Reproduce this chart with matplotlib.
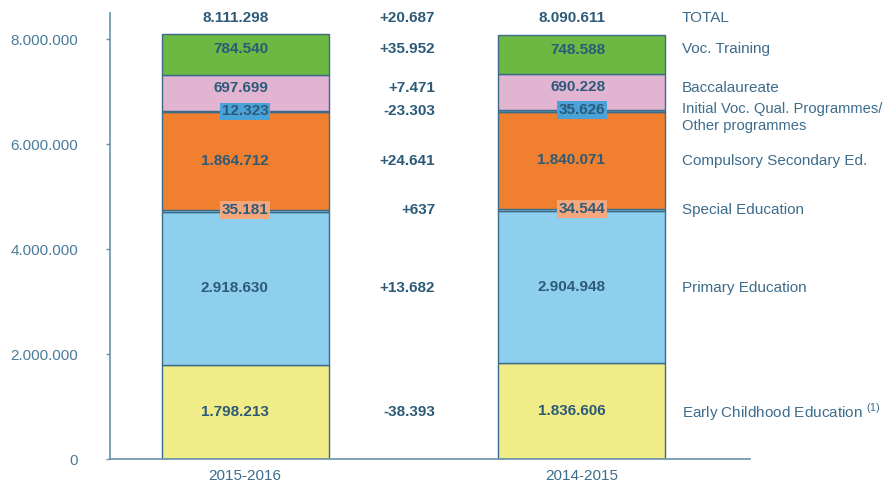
import matplotlib
matplotlib.use("Agg")
import matplotlib.pyplot as plt
import numpy as np

plt.rcParams['font.family'] = ['Liberation Sans', 'DejaVu Sans']
plt.rcParams['mathtext.fontset'] = 'custom'
plt.rcParams['mathtext.rm'] = 'Liberation Sans'

years = ["2015-2016", "2014-2015"]
categories = ["Early Childhood Education", "Primary Education", "Special Education",
              "Compulsory Secondary Ed.", "Initial Voc. Qual. Programmes/\nOther programmes",
              "Baccalaureate", "Voc. Training"]
values_2015_16 = [1798213, 2918630, 35181, 1864712, 12323, 697699, 784540]
values_2014_15 = [1836606, 2904948, 34544, 1840071, 35626, 690228, 748588]
changes = ["-38.393", "+13.682", "+637", "+24.641", "-23.303", "+7.471", "+35.952"]
totals = ["8.111.298", "8.090.611"]
total_change = "+20.687"
yticks = [0, 2000000, 4000000, 6000000, 8000000]
ytick_labels = ["0", "2.000.000", "4.000.000", "6.000.000", "8.000.000"]

colors = ["#f0ec88", "#8fcfee", "#8fcfee", "#f08030", "#5a9cc8", "#e1b4d2", "#6bb843"]
small_bg = {2: "#f4a77a", 4: "#4aa3d8"}
label_offsets = [0, 0, 0, 0, 0, 100000, 90000]

dark = "#2c5a78"
mid = "#3d6c8c"
tick_c = "#4a7b9b"
axis_c = "#6a90aa"
edge_c = "#3b6a88"

def fmt(v):
    return f"{v:,}".replace(",", ".")

fig = plt.figure(figsize=(8.87, 4.83), dpi=100)
ax = fig.add_axes([0.124, 0.0487, 0.7216, 0.924])

series = [values_2015_16, values_2014_15]
xs = np.arange(len(years))
width = 0.496
lab_dx = 0.07
label_ys = []
for i, vals in enumerate(series):
    bottom = 0
    for j, v in enumerate(vals):
        ax.bar(xs[i], v, width, bottom=bottom, color=colors[j], edgecolor=edge_c, linewidth=1.0, zorder=2)
        if j in small_bg:
            y = bottom + v
            ax.text(xs[i] + lab_dx, y, fmt(v), ha='right', va='center', fontsize=11, fontweight='bold', color=dark,
                    bbox=dict(boxstyle='square,pad=0.12', fc=small_bg[j], ec='none'), zorder=4)
        else:
            y = bottom + v / 2 + label_offsets[j]
            ax.text(xs[i] + lab_dx, y, fmt(v), ha='right', va='center', fontsize=11, fontweight='bold',
                    color=dark, zorder=4)
        if i == 0:
            label_ys.append(y)
        bottom += v

total_y = 8400000
for i in range(len(years)):
    ax.text(xs[i] + lab_dx, total_y, totals[i], ha='right', va='center', fontsize=11, fontweight='bold', color=dark)

change_x = 0.565
label_x = 1.298
for j, cat in enumerate(categories):
    ax.text(change_x, label_ys[j], changes[j], ha='right', va='center', fontsize=11, fontweight='bold', color=dark)
    if j == 0:
        txt = cat + r" $^{\mathrm{(1)}}$"
    else:
        txt = cat
    if "\n" in cat:
        ax.text(label_x, label_ys[j] + 180000, cat, ha='left', va='top', fontsize=10.6, color=mid,
                linespacing=1.3, clip_on=False)
    else:
        ax.text(label_x, label_ys[j], txt, ha='left', va='center', fontsize=11, color=mid, clip_on=False)
ax.text(change_x, total_y, total_change, ha='right', va='center', fontsize=11, fontweight='bold', color=dark)
ax.text(label_x, total_y, "TOTAL", ha='left', va='center', fontsize=11, color=mid, clip_on=False)

ax.set_xlim(-0.401, 1.5)
ax.set_ylim(0, 8500000)
ax.set_yticks(yticks)
ax.set_yticklabels(ytick_labels)
ax.set_xticks(xs)
ax.set_xticklabels(years)
for s in ['top', 'right']:
    ax.spines[s].set_visible(False)
for s in ['left', 'bottom']:
    ax.spines[s].set_color(axis_c)
    ax.spines[s].set_linewidth(1.2)
ax.tick_params(axis='y', colors=axis_c, labelcolor=tick_c, labelsize=11, length=3, width=1, pad=20)
ax.tick_params(axis='x', length=0, labelcolor=mid, labelsize=11, pad=7)

fig.savefig("out.png", dpi=100)
